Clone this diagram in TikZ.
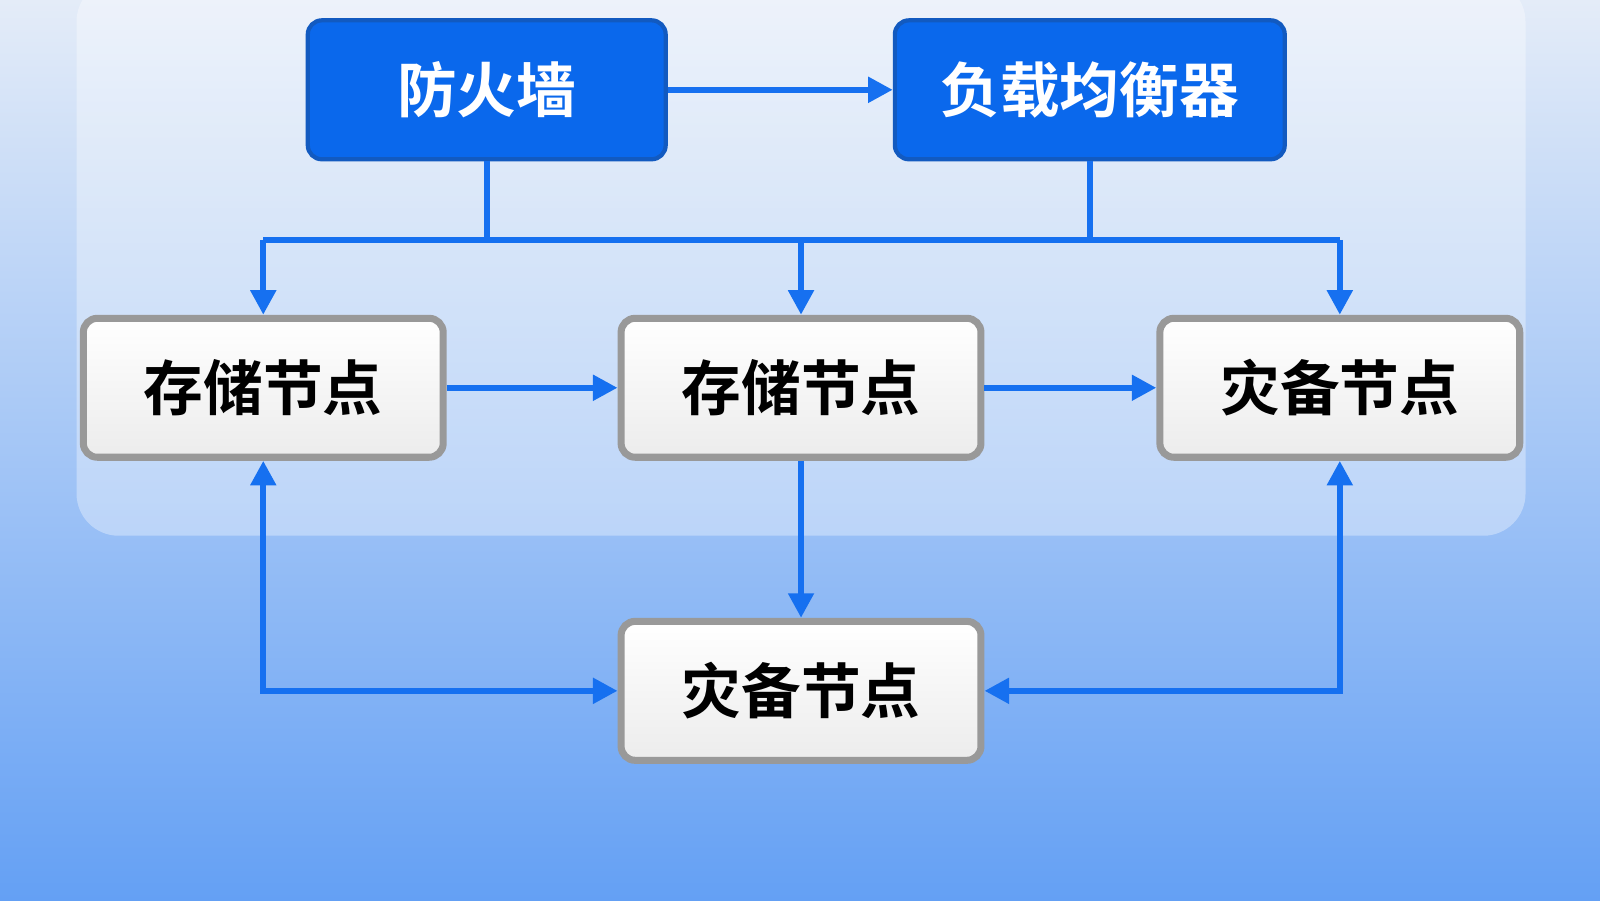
\documentclass[tikz,border=0pt]{standalone}
\usepackage{fontspec}
\newfontfamily\cjk{Noto Sans CJK SC}[BoldFont={* Bold}]
\usetikzlibrary{arrows.meta}
\definecolor{topbg}{HTML}{E4ECF8}
\definecolor{botbg}{HTML}{64A0F4}
\definecolor{lnk}{HTML}{1670F0}
\definecolor{bluebox}{HTML}{0A68EC}
\begin{document}
\begin{tikzpicture}[x=0.010204cm,y=-0.010204cm,
  blue/.style={draw=lnk!80!black,line width=1.2pt,fill=bluebox,rounded corners=4pt,minimum width=3.58cm,minimum height=1.39cm,text=white,font=\cjk\bfseries\fontsize{17}{20}\selectfont},
  grey/.style={draw=gray!80,line width=2pt,top color=white,bottom color=gray!15,rounded corners=4pt,minimum width=3.6cm,minimum height=1.39cm,text=black,font=\cjk\bfseries\fontsize{17}{20}\selectfont},
  ln/.style={draw=lnk,line width=1.8pt},
  ar/.style={ln,-{Triangle[length=7pt,width=7pt]}}]
\useasboundingbox (0,0) rectangle (1568,882);
\shade[top color=topbg,bottom color=botbg] (0,0) rectangle (1568,882);
\fill[white,opacity=0.35,rounded corners=12pt] (75,-20) rectangle (1495,525);
\node[blue] (fw) at (477,88) {防火墙};
\node[blue,minimum width=3.9cm] (lb) at (1068,88) {负载均衡器};
\node[grey] (s1) at (258,380) {存储节点};
\node[grey] (s2) at (785,380) {存储节点};
\node[grey] (d1) at (1313,380) {灾备节点};
\node[grey] (d2) at (785,677) {灾备节点};
\coordinate (bl) at (258,235);
\coordinate (br) at (1313,235);
\coordinate (bm) at (785,235);
\draw[ar] (fw) -- (lb);
\draw[ln] (fw.south) -- (fw.south |- bl);
\draw[ln] (lb.south) -- (lb.south |- bl);
\draw[ln] (bl) -- (br);
\draw[ar] (bl) -- (s1.north);
\draw[ar] (bm) -- (s2.north);
\draw[ar] (br) -- (d1.north);
\draw[ar] (s1) -- (s2);
\draw[ar] (s2) -- (d1);
\draw[ar] (s2) -- (d2);
\draw[ln,{Triangle[length=7pt,width=7pt]}-{Triangle[length=7pt,width=7pt]}] (s1.south) -- (s1.south |- d2.west) -- (d2.west);
\draw[ln,{Triangle[length=7pt,width=7pt]}-{Triangle[length=7pt,width=7pt]}] (d1.south) -- (d1.south |- d2.east) -- (d2.east);
\end{tikzpicture}
\end{document}
